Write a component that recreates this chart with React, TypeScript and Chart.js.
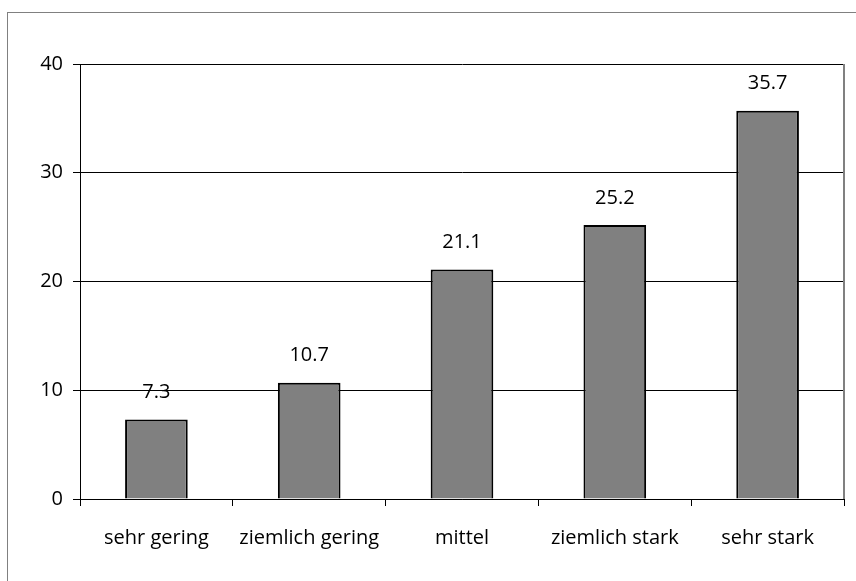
import React, { useEffect, useRef } from "react";
import { Chart, registerables } from "chart.js";

Chart.register(...registerables);

const categories = ["sehr gering", "ziemlich gering", "mittel", "ziemlich stark", "sehr stark"];
const values = [7.3, 10.7, 21.1, 25.2, 35.7];
const yTicks = [0, 10, 20, 30, 40];

const FONT = "'Open Sans', 'DejaVu Sans', sans-serif";
const FONT_SIZE = 20;

const framePlugin = {
  id: "frame",
  beforeDraw(chart: any) {
    const ctx = chart.ctx;
    ctx.save();
    ctx.fillStyle = "#ffffff";
    ctx.fillRect(0, 0, chart.width, chart.height);
    ctx.strokeStyle = "#808080";
    ctx.lineWidth = 1;
    ctx.strokeRect(7.5, 12.5, chart.width + 20, chart.height + 20);
    ctx.restore();
  },
  afterDraw(chart: any) {
    const ctx = chart.ctx;
    const a = chart.chartArea;
    ctx.save();
    ctx.strokeStyle = "#808080";
    ctx.lineWidth = 2;
    ctx.beginPath();
    ctx.moveTo(a.right, a.top);
    ctx.lineTo(a.right, a.bottom);
    ctx.stroke();
    ctx.restore();
  },
};

const labelPlugin = {
  id: "valueLabels",
  afterDatasetsDraw(chart: any) {
    const ctx = chart.ctx;
    const meta = chart.getDatasetMeta(0);
    ctx.save();
    ctx.font = `${FONT_SIZE}px ${FONT}`;
    ctx.fillStyle = "#000000";
    ctx.textAlign = "center";
    ctx.textBaseline = "middle";
    meta.data.forEach((bar: any, i: number) => {
      ctx.fillText(values[i].toFixed(1), bar.x, bar.y - 27);
    });
    ctx.restore();
  },
};

export default function App() {
  const ref = useRef<HTMLCanvasElement | null>(null);

  useEffect(() => {
    document.body.style.margin = "0";
    const canvas = ref.current!;
    const chart = new Chart(canvas, {
      type: "bar",
      data: {
        labels: categories,
        datasets: [
          {
            data: values,
            backgroundColor: "#808080",
            borderColor: "#000000",
            borderWidth: 2,
            barPercentage: 0.41,
            categoryPercentage: 1,
          },
        ],
      },
      options: {
        animation: false,
        responsive: false,
        maintainAspectRatio: false,
        layout: { padding: { left: 0, top: 64, right: 12, bottom: 0 } },
        plugins: {
          legend: { display: false },
          tooltip: { enabled: false },
          title: { display: false },
        },
        scales: {
          x: {
            offset: true,
            grid: {
              offset: true,
              drawOnChartArea: false,
              drawTicks: true,
              tickLength: 7,
              color: "#000000",
              lineWidth: 1,
            },
            border: { display: true, color: "#000000", width: 1 },
            ticks: {
              color: "#000000",
              font: { family: FONT, size: FONT_SIZE },
              padding: 20,
              maxRotation: 0,
              autoSkip: false,
            },
            afterFit: (scale: any) => {
              scale.height = 82;
            },
          },
          y: {
            min: 0,
            max: 40,
            afterBuildTicks: (scale: any) => {
              scale.ticks = yTicks.map((v) => ({ value: v }));
            },
            grid: {
              color: "#000000",
              lineWidth: 1,
              drawTicks: true,
              tickLength: 7,
            },
            border: { display: true, color: "#000000", width: 1 },
            ticks: {
              color: "#000000",
              font: { family: FONT, size: FONT_SIZE },
              padding: 10,
            },
            afterFit: (scale: any) => {
              scale.width = 80;
            },
          },
        },
      },
      plugins: [framePlugin, labelPlugin],
    });
    return () => chart.destroy();
  }, []);

  return (
    <div style={{ width: 856, height: 581 }}>
      <canvas ref={ref} width={856} height={581} style={{ display: "block", width: 856, height: 581 }} />
    </div>
  );
}
